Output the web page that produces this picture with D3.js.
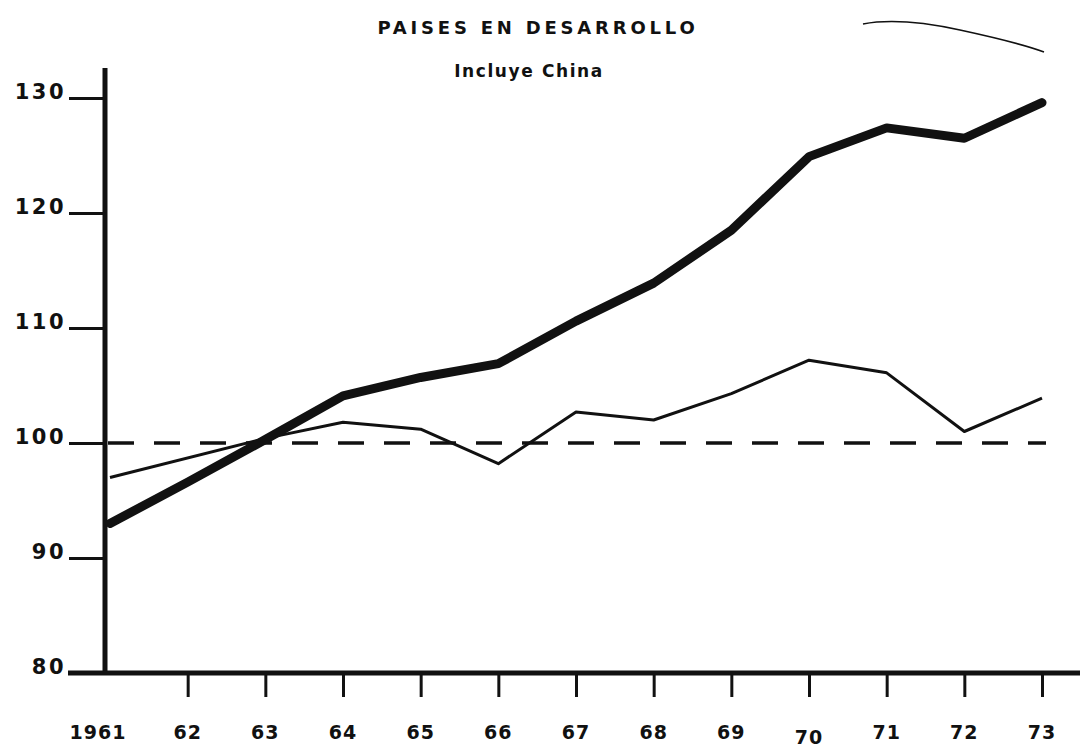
<!DOCTYPE html>
<html>
<head>
<meta charset="utf-8">
<script src="https://cdn.jsdelivr.net/npm/d3@7"></script>
<style>
  body { margin: 0; background: #fff; }
  text { font-family: "DejaVu Sans", sans-serif; font-weight: bold; fill: #111; }
</style>
</head>
<body>
<div id="chart"></div>
<script>
// Paises en desarrollo - indice (1961-63 = 100)

var years = [1961, 1962, 1963, 1964, 1965, 1966, 1967, 1968, 1969, 1970, 1971, 1972, 1973];
var totalValues = [93.0, 96.6, 100.3, 104.1, 105.7, 106.9, 110.6, 113.9, 118.5, 124.9, 127.4, 126.5, 129.6];

// thin series has no 1962 point (straight segment 1961 -> 1963)
var perCapitaYears = [1961, 1963, 1964, 1965, 1966, 1967, 1968, 1969, 1970, 1971, 1972, 1973];
var perCapitaValues = [97.0, 100.4, 101.8, 101.2, 98.2, 102.7, 102.0, 104.3, 107.2, 106.1, 101.0, 103.9];

var yTicks = [80, 90, 100, 110, 120, 130];
var xTickLabels = ["1961", "62", "63", "64", "65", "66", "67", "68", "69", "70", "71", "72", "73"];
var baseValue = 100;

var svgWidth = 1080;
var svgHeight = 750;

var svg = d3.select("#chart")
	.append("svg")
	.attr("width", svgWidth)
	.attr("height", svgHeight);

var xScale = d3.scaleLinear()
	.domain([1961, 1973])
	.range([110, 1042]);

var yScale = d3.scaleLinear()
	.domain([80, 130])
	.range([673, 98]);

// titles
svg.append("text")
	.attr("x", 538)
	.attr("y", 34)
	.attr("text-anchor", "middle")
	.attr("font-size", "18px")
	.attr("letter-spacing", "3.8px")
	.text("PAISES  EN  DESARROLLO");

svg.append("text")
	.attr("x", 529)
	.attr("y", 77)
	.attr("text-anchor", "middle")
	.attr("font-size", "17px")
	.attr("letter-spacing", "1.6px")
	.text("Incluye China");

// stray pen stroke top right
svg.append("path")
	.attr("d", "M863,24 Q900,17 960,30 T1044,52")
	.attr("fill", "none")
	.attr("stroke", "#111")
	.attr("stroke-width", 1.6);

// y axis: ticks to the left of the axis line
var yAxis = d3.axisLeft(yScale)
	.tickValues(yTicks)
	.tickSize(36)
	.tickFormat(d => d);

var yg = svg.append("g")
	.attr("transform", "translate(105,0)")
	.call(yAxis);
yg.select(".domain").remove();
yg.selectAll(".tick line")
	.attr("stroke", "#111")
	.attr("stroke-width", 3);
yg.selectAll(".tick text")
	.attr("x", -39)
	.attr("dy", "0")
	.attr("font-size", "21px")
	.attr("letter-spacing", "2.5px")
	.attr("font-family", "DejaVu Sans, sans-serif")
	.attr("font-weight", "bold")
	.attr("fill", "#111");

// x axis: ticks hang below the axis line
var xAxis = d3.axisBottom(xScale)
	.tickValues(years.slice(1))
	.tickSize(24)
	.tickFormat("");

var xg = svg.append("g")
	.attr("transform", "translate(0,673)")
	.call(xAxis);
xg.select(".domain").remove();
xg.selectAll(".tick line")
	.attr("stroke", "#111")
	.attr("stroke-width", 3);

svg.selectAll(".xlabel")
	.data(years)
	.enter()
	.append("text")
	.attr("class", "xlabel")
	.attr("x", d => xScale(d) + (d === 1961 ? -12 : 0))
	.attr("y", d => d === 1970 ? 744 : 739)
	.attr("text-anchor", "middle")
	.attr("font-size", "19px")
	.attr("letter-spacing", "1px")
	.text((d, i) => xTickLabels[i]);

// axis lines
svg.append("line")
	.attr("x1", 105).attr("x2", 105)
	.attr("y1", 68).attr("y2", 675)
	.attr("stroke", "#111")
	.attr("stroke-width", 5);

svg.append("line")
	.attr("x1", 68).attr("x2", 1080)
	.attr("y1", 673).attr("y2", 673)
	.attr("stroke", "#111")
	.attr("stroke-width", 5);

// base line at 100
svg.append("line")
	.attr("x1", 108).attr("x2", 1046)
	.attr("y1", yScale(baseValue)).attr("y2", yScale(baseValue))
	.attr("stroke", "#111")
	.attr("stroke-width", 3.5)
	.attr("stroke-dasharray", "26,20");

var line = d3.line()
	.x(d => xScale(d[0]))
	.y(d => yScale(d[1]));

svg.append("path")
	.datum(perCapitaYears.map((y, i) => [y, perCapitaValues[i]]))
	.attr("d", line)
	.attr("fill", "none")
	.attr("stroke", "#111")
	.attr("stroke-width", 3)
	.attr("stroke-linejoin", "round");

svg.append("path")
	.datum(years.map((y, i) => [y, totalValues[i]]))
	.attr("d", line)
	.attr("fill", "none")
	.attr("stroke", "#111")
	.attr("stroke-width", 9)
	.attr("stroke-linejoin", "round")
	.attr("stroke-linecap", "round");
</script>
</body>
</html>
